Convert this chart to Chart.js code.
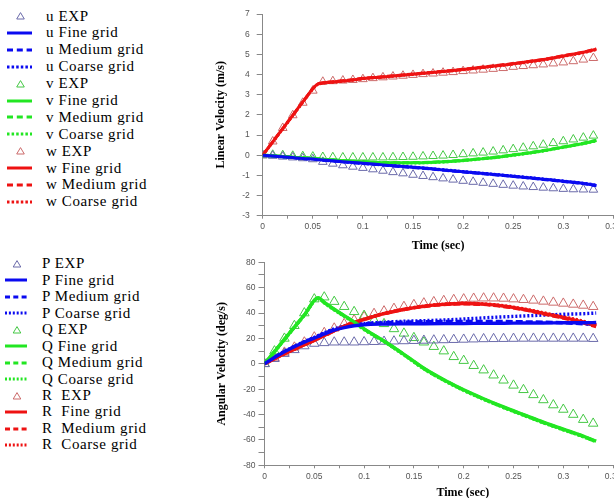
<!DOCTYPE html>
<html><head><meta charset="utf-8">
<script src="https://cdn.jsdelivr.net/npm/chart.js@4/dist/chart.umd.min.js"></script>
<style>
html,body{margin:0;padding:0;background:#fff;}
body{width:614px;height:498px;position:relative;overflow:hidden;}
canvas{position:absolute;}
#c1{left:200px;top:0px;}
#c2{left:200px;top:250px;}
.leg{position:absolute;font-family:"Liberation Serif",serif;font-size:15px;letter-spacing:0.6px;color:#000;white-space:pre;line-height:17px;}
svg{position:absolute;overflow:visible;}
</style></head>
<body>
<canvas id="c1" width="440" height="255"></canvas>
<canvas id="c2" width="440" height="252"></canvas>
<div id="leg"></div>
<script>
// ---------- DATA ----------
const tExp = [0,0.01,0.02,0.03,0.04,0.05,0.06,0.07,0.08,0.09,0.1,0.11,0.12,0.13,0.14,0.15,0.16,0.17,0.18,0.19,0.2,0.21,0.22,0.23,0.24,0.25,0.26,0.27,0.28,0.29,0.3,0.31,0.32,0.33];
const tLine = [0,0.01,0.02,0.03,0.04,0.054,0.06,0.07,0.08,0.09,0.1,0.12,0.14,0.16,0.18,0.2,0.22,0.24,0.26,0.28,0.3,0.32,0.333];

// Linear velocity (m/s)
const uExp = [0,-0.03,-0.07,-0.11,-0.15,-0.2,-0.33,-0.42,-0.5,-0.57,-0.63,-0.7,-0.77,-0.84,-0.9,-0.97,-1.03,-1.09,-1.15,-1.21,-1.27,-1.32,-1.37,-1.42,-1.47,-1.51,-1.55,-1.58,-1.61,-1.64,-1.67,-1.69,-1.7,-1.71];
const uFine = [0,-0.04,-0.08,-0.12,-0.16,-0.21,-0.24,-0.28,-0.32,-0.36,-0.4,-0.48,-0.56,-0.64,-0.73,-0.82,-0.91,-1.0,-1.09,-1.19,-1.29,-1.4,-1.5];
const uMedium = [0,-0.04,-0.08,-0.12,-0.16,-0.21,-0.25,-0.29,-0.33,-0.37,-0.41,-0.49,-0.57,-0.65,-0.74,-0.83,-0.92,-1.01,-1.1,-1.2,-1.3,-1.41,-1.51];
const uCoarse = [0,-0.04,-0.08,-0.12,-0.16,-0.2,-0.24,-0.28,-0.32,-0.36,-0.4,-0.47,-0.55,-0.63,-0.72,-0.81,-0.9,-0.99,-1.08,-1.18,-1.28,-1.39,-1.48];

const vExp = [0,0.02,0,-0.03,-0.05,-0.07,-0.09,-0.1,-0.11,-0.11,-0.11,-0.11,-0.11,-0.1,-0.09,-0.08,-0.06,-0.04,-0.02,0.01,0.05,0.09,0.13,0.18,0.24,0.3,0.37,0.44,0.52,0.6,0.69,0.78,0.87,0.97];
const vFine = [0,-0.03,-0.06,-0.1,-0.13,-0.17,-0.2,-0.23,-0.27,-0.3,-0.33,-0.37,-0.38,-0.37,-0.33,-0.26,-0.17,-0.06,0.07,0.22,0.4,0.58,0.73];
const vMedium = [0,-0.03,-0.06,-0.1,-0.13,-0.17,-0.2,-0.23,-0.27,-0.3,-0.33,-0.36,-0.37,-0.36,-0.32,-0.25,-0.16,-0.05,0.08,0.23,0.41,0.59,0.74];
const vCoarse = [0,-0.03,-0.06,-0.1,-0.13,-0.17,-0.2,-0.24,-0.28,-0.31,-0.34,-0.38,-0.39,-0.38,-0.34,-0.27,-0.18,-0.07,0.06,0.21,0.39,0.57,0.71];

const wExp = [0,0.68,1.35,1.98,2.6,3.2,3.64,3.67,3.7,3.73,3.77,3.82,3.86,3.9,3.94,3.98,4.02,4.05,4.09,4.12,4.17,4.2,4.24,4.28,4.32,4.38,4.42,4.46,4.5,4.55,4.6,4.66,4.74,4.82];
const wFine = [0,0.66,1.32,1.98,2.64,3.5,3.58,3.63,3.68,3.73,3.8,3.88,3.97,4.06,4.15,4.25,4.36,4.47,4.6,4.74,4.92,5.1,5.26];
const wMedium = [0,0.66,1.32,1.98,2.64,3.5,3.59,3.64,3.69,3.74,3.81,3.89,3.98,4.07,4.16,4.26,4.37,4.48,4.61,4.75,4.93,5.11,5.27];
const wCoarse = [0,0.65,1.3,1.96,2.62,3.48,3.57,3.62,3.67,3.72,3.79,3.87,3.96,4.05,4.14,4.24,4.35,4.46,4.58,4.72,4.9,5.08,5.24];

// Angular velocity (deg/s)
const pExp = [0,4,8,11,14,16,16.5,17,17,17,17.2,17.4,17.6,17.8,18,18.2,18.4,18.6,18.8,19,19.2,19.4,19.6,19.7,19.8,19.9,20,20,20,20,20,20,20,19.8];
const pFine = [0,5,9.5,13.5,17,21.5,23.5,26.5,28.5,30,30.8,31.3,31.5,31.6,31.7,31.8,31.9,32,32.1,32.2,32.3,32.4,32.5];
const pMedium = [0,5,9.5,13.5,17.2,21.8,24,27,29.2,30.6,31.5,32.3,32.8,33.1,33.3,33.4,33.4,33.3,33.1,32.8,32.3,31.6,31];
const pCoarse = [0,5,9.6,13.8,17.5,22.2,24.5,27.5,29.6,31,31.8,32.8,33.5,34,34.5,35.3,36.2,37,37.7,38.4,39,39.5,40];

const qExp = [0,10,20,30,40,51,52.5,49,45,41,38,34.5,31.5,27.5,24,20.5,17,13.5,10,5.5,2.5,-1.5,-5,-9,-13,-17,-20.5,-24.5,-28.5,-32.5,-36,-40,-44,-47];
const qFine = [0,9.6,19.3,28.9,38.5,52,48.5,43,38,33,27.5,18,7.5,-3.5,-12.5,-20.5,-27.5,-34,-40,-46,-51.5,-57,-61];
const qMedium = [0,9.6,19.3,28.9,38.5,51.8,48.3,42.8,37.8,32.8,27.3,17.8,7.3,-3.7,-12.7,-20.7,-27.8,-34.3,-40.3,-46.3,-51.8,-57.3,-61.3];
const qCoarse = [0,9.5,19.1,28.7,38.3,51.5,48,42.5,37.5,32.5,27,17.5,7,-4,-13,-21,-28,-34.5,-40.5,-46.5,-52,-57.5,-61.5];

const rExp = [0,4.5,9,13,17,21,24.5,28,31.5,34.5,37,39.5,41.5,43.5,45,46.5,47.8,48.8,49.7,50.5,51,51.5,51.7,51.7,51.5,51,50.5,50,49.2,48.4,47.6,46.8,46,45];
const rFine = [0,4,8,11.5,15,20,22.3,26,29.5,32.5,35,39.5,42.8,45.3,46.8,47.5,47,45.5,43,39.8,36.5,33,30];
const rMedium = [0,4,8,11.5,15,20,22.3,26,29.5,32.5,35,39.5,42.8,45.2,46.7,47.3,46.8,45.2,42.7,39.4,36,32.3,29.3];
const rCoarse = [0,4,8,11.6,15.2,20.2,22.5,26.2,29.7,32.7,35.2,39.7,43,45.5,47,47.7,47.2,45.8,43.3,40.2,37,33.6,30.7];

const kinds = ['EXP','Fine grid','Medium grid','Coarse grid'];
const topVars = ['u','v','w'];
const botVars = ['P','Q','R'];
const topSeries = [[uExp,uFine,uMedium,uCoarse],[vExp,vFine,vMedium,vCoarse],[wExp,wFine,wMedium,wCoarse]];
const botSeries = [[pExp,pFine,pMedium,pCoarse],[qExp,qFine,qMedium,qCoarse],[rExp,rFine,rMedium,rCoarse]];

// ---------- STYLE ----------
const lineColors = ['#0a0af0','#22e622','#ee1212'];
const expColors = ['#6a6aaa','#44c844','#cc6a6a'];
const dashFor = {1:[], 2:[7,3], 3:[2,2]};

function makeDatasets(vars, series, rExpPt, lw) {
  const out = [];
  vars.forEach((v, i) => {
    series[i].forEach((ys, k) => {
      const xs = k === 0 ? tExp : tLine;
      const data = xs.map((x, j) => ({x: x, y: ys[j]}));
      const label = v + ' ' + kinds[k];
      if (k === 0) {
        out.push({label, data, showLine:false, pointStyle:'triangle', pointRadius:rExpPt, pointHoverRadius:rExpPt,
          borderColor:expColors[i], backgroundColor:'rgba(0,0,0,0)', pointBorderWidth:1, borderWidth:1, order:3});
      } else {
        out.push({label, data, showLine:true, pointRadius:0, pointHoverRadius:0, borderColor:lineColors[i],
          backgroundColor:lineColors[i], borderWidth:lw, borderDash:dashFor[k], cubicInterpolationMode:'monotone',
          fill:false, order: k===1 ? 0 : (k===2 ? 1 : 2)});
      }
    });
  });
  return out;
}

function makeChart(id, o) {
  return new Chart(document.getElementById(id), {
    type:'scatter',
    data:{datasets: makeDatasets(o.vars, o.series, o.pt, o.lw)},
    options:{
      responsive:false, animation:false, devicePixelRatio:1,
      layout:{padding:{top:o.padTop, right:o.padRight, left:0, bottom:0}},
      plugins:{legend:{display:false}, tooltip:{enabled:false}},
      scales:{
        x:{type:'linear', min:0, max:0.35,
          ticks:{stepSize:0.025, autoSkip:false, maxRotation:0, minRotation:0, padding:3, color:'#555',
            font:{family:'Liberation Sans', size:8.5},
            callback:(v)=> (Math.round(v*1000) % 50 === 0 ? String(Math.round(v*100)/100) : '')},
          grid:{display:true, drawOnChartArea:false, drawTicks:true, tickLength:3, color:'#888', lineWidth:1},
          border:{display:true, color:'#888', width:1},
          title:{display:true, text:o.xTitle, color:'#000', font:{family:'Liberation Serif', size:12, weight:'bold'}, padding:{top:0, bottom:o.xTitlePad}},
          afterFit:(s)=>{ s.height = o.xH; s.paddingLeft = 0; s.paddingRight = 0; }
        },
        y:{type:'linear', min:o.yMin, max:o.yMax,
          ticks:{stepSize:o.yStep, autoSkip:false, padding:o.yTickPad, color:'#555',
            font:{family:'Liberation Sans', size:8.5},
            callback:(v)=> (Math.round(v) % o.yLabelEvery === 0 ? String(v) : '')},
          grid:{display:true, drawOnChartArea:false, drawTicks:true, tickLength:6, color:'#888', lineWidth:1},
          border:{display:true, color:'#888', width:1},
          title:{display:true, text:o.yTitle, color:'#000', font:{family:'Liberation Serif', size:12, weight:'bold'}, padding:{top:o.yTitlePad, bottom:0}},
          afterFit:(s)=>{ s.width = o.yW; }
        }
      }
    }
  });
}

makeChart('c1', {vars:topVars, series:topSeries, pt:5, lw:3, padTop:14, padRight:26.6, xH:39.3, xTitlePad:1.8,
  xTitle:'Time (sec)', yMin:-3, yMax:7, yStep:1, yLabelEvery:1, yTickPad:7, yTitle:'Linear Velocity (m/s)', yTitlePad:13.8, yW:62.7});
makeChart('c2', {vars:botVars, series:botSeries, pt:5.5, lw:3.4, padTop:12.3, padRight:26.9, xH:36.7, xTitlePad:1.5,
  xTitle:'\u2002\u2002\u2002\u2002\u2002\u2002\u2002\u2002Time (sec)', yMin:-80, yMax:80, yStep:10, yLabelEvery:20, yTickPad:3, yTitle:'Angular Velocity (deg/s)', yTitlePad:14.8, yW:64.5});

// ---------- LEGENDS ----------
const NS = 'http://www.w3.org/2000/svg';
const legRoot = document.getElementById('leg');
function buildLegend(vars, spacerAfter, y0, dy, sx0, sx1, tx, dashes, dots) {
  vars.forEach((v, i) => {
    kinds.forEach((kname, k) => {
      const row = i*4 + k;
      const cy = y0 + row*dy;
      const svg = document.createElementNS(NS, 'svg');
      svg.setAttribute('width', sx1 - sx0 + 4);
      svg.setAttribute('height', 12);
      svg.style.left = (sx0 - 2) + 'px';
      svg.style.top = (cy - 6) + 'px';
      if (k === 0) {
        const cx = (sx0 + sx1)/2 - sx0 + 2 + 1;
        const p = document.createElementNS(NS, 'polygon');
        p.setAttribute('points', (cx-3.8)+',9 '+(cx+3.8)+',9 '+cx+',2.6');
        p.setAttribute('fill', 'none');
        p.setAttribute('stroke', expColors[i]);
        p.setAttribute('stroke-width', '1');
        svg.appendChild(p);
      } else {
        const l = document.createElementNS(NS, 'line');
        l.setAttribute('x1', 2); l.setAttribute('x2', sx1 - sx0 + 2);
        l.setAttribute('y1', 6); l.setAttribute('y2', 6);
        l.setAttribute('stroke', lineColors[i]);
        l.setAttribute('stroke-width', '3');
        if (k === 2) l.setAttribute('stroke-dasharray', dashes);
        if (k === 3) l.setAttribute('stroke-dasharray', dots);
        svg.appendChild(l);
      }
      legRoot.appendChild(svg);
      const d = document.createElement('div');
      d.className = 'leg';
      d.style.left = tx + 'px';
      d.style.top = (cy - 8.6) + 'px';
      d.textContent = v + (spacerAfter === v ? '\u00a0 ' : ' ') + kname;
      legRoot.appendChild(d);
    });
  });
}
buildLegend(topVars, null, 16.2, 16.88, 7, 32, 46, '6 3.8', '2.5 2.1');
buildLegend(botVars, 'R', 264, 16.45, 5, 27, 42, '5 3.3', '2 1.9');
</script>
</body></html>
